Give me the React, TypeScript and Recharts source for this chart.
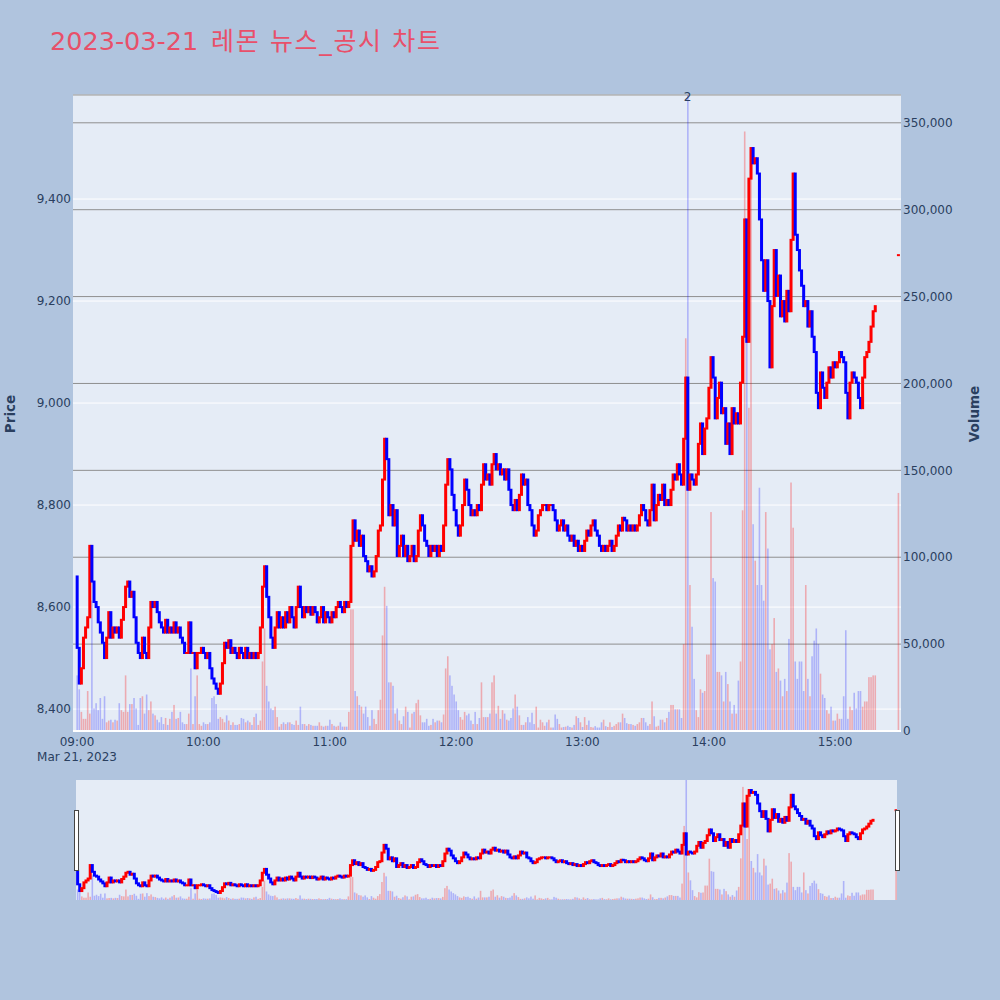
import { ComposedChart, Bar, XAxis, YAxis, CartesianGrid, ReferenceLine, ReferenceDot } from "recharts";

const FONT = '"DejaVu Sans", Verdana, "Noto Sans CJK KR", sans-serif';
const INK = "#2a3f5f";
const RED = "#ff0000";
const BLUE = "#0000ff";
const PLOT_BG = "#e5ecf6";

const chartTitle = "2023-03-21 레몬 뉴스_공시 차트";
const tradeDate = "Mar 21, 2023";
const timeTicks = ["09:00", "10:00", "11:00", "12:00", "13:00", "14:00", "15:00"];
const priceTicks = [8400, 8600, 8800, 9000, 9200, 9400];
const volumeTicks = [0, 50000, 100000, 150000, 200000, 250000, 300000, 350000];

// one candle per minute from 09:00, open = previous close
const firstOpen = 8660;
const closes = [
  8520, 8450, 8480, 8540, 8560, 8580, 8720, 8650, 8610, 8600,
  8570, 8550, 8530, 8500, 8540, 8590, 8540, 8560, 8550, 8560,
  8540, 8575, 8600, 8640, 8650, 8620, 8630, 8580, 8530, 8510,
  8500, 8540, 8510, 8500, 8560, 8610, 8600, 8610, 8590, 8570,
  8560, 8550, 8575, 8550, 8560, 8550, 8570, 8550, 8560, 8540,
  8530, 8510, 8510, 8570, 8510, 8510, 8480, 8510, 8510, 8520,
  8510, 8500, 8510, 8480, 8460, 8450, 8440, 8430, 8450, 8490,
  8530, 8520, 8535, 8510, 8520, 8510, 8500, 8520, 8510, 8500,
  8520, 8500, 8510, 8500, 8510, 8500, 8510, 8560, 8640, 8680,
  8620, 8580, 8540, 8520, 8560, 8590, 8560, 8580, 8560, 8590,
  8570, 8600, 8580, 8560, 8600, 8640, 8600, 8580, 8600, 8590,
  8600, 8585, 8600, 8590, 8570, 8580, 8600, 8570, 8590, 8580,
  8570, 8590, 8580, 8600, 8610, 8600, 8590, 8610, 8600, 8610,
  8720, 8770, 8730, 8750, 8720, 8740, 8700, 8690, 8670, 8680,
  8660, 8670, 8700, 8750, 8760, 8850, 8930, 8890, 8780, 8800,
  8760, 8790, 8700, 8720, 8740, 8700, 8720, 8690, 8700, 8720,
  8690, 8700, 8750, 8780, 8760, 8730, 8720, 8700, 8720, 8710,
  8720, 8700, 8720, 8710, 8760, 8840, 8890, 8870, 8820, 8790,
  8760, 8740, 8760, 8800, 8850, 8830, 8800, 8780, 8790, 8780,
  8800, 8790, 8840, 8880, 8850, 8860, 8840, 8880, 8900, 8870,
  8880, 8860, 8870, 8850, 8870, 8830, 8800, 8790, 8810, 8790,
  8820, 8860, 8840, 8850, 8800, 8790, 8760, 8740, 8750, 8780,
  8790, 8800, 8800, 8790, 8800, 8800, 8790, 8770, 8750, 8760,
  8770, 8750, 8760, 8740, 8730, 8740, 8720, 8730, 8710, 8720,
  8710, 8730, 8750, 8740, 8760, 8770, 8750, 8740, 8720, 8710,
  8720, 8710, 8720, 8730, 8710, 8720, 8740, 8760, 8750, 8775,
  8770, 8750, 8760, 8750, 8760, 8750, 8760, 8780, 8800, 8790,
  8770, 8760, 8790, 8840, 8770, 8800, 8820, 8810, 8840, 8800,
  8810, 8800, 8830, 8860, 8850, 8880, 8860, 8840, 8930, 9050,
  8830, 8860, 8850, 8840, 8860, 8920, 8960, 8900, 8950, 8970,
  9030, 9090, 9050, 8970, 9010, 9040, 8980, 8990, 8920, 8960,
  8900, 8990, 8960, 8980, 8960, 9040, 9130, 9360, 9120, 9440,
  9500, 9470, 9480, 9450, 9360, 9280, 9220, 9280, 9200, 9070,
  9190, 9300, 9210, 9250, 9170, 9200, 9160, 9220, 9180, 9320,
  9450, 9330, 9300, 9260, 9230, 9190, 9200, 9150, 9180, 9130,
  9100, 9020, 8990, 9060, 9030, 9010, 9040, 9070, 9050, 9080,
  9070, 9080, 9100, 9090, 9080, 9020, 8970, 9040, 9060, 9050,
  9040, 9010, 8990, 9050, 9090, 9100, 9120, 9150, 9180, 9190,
];
const volumes = [
  32000, 24000, 11000, 7000, 7000, 23000, 10000, 75000, 13000, 16000,
  12000, 19000, 7000, 20000, 5000, 6000, 6500, 5000, 6500, 6000,
  16000, 12000, 11000, 32000, 11000, 15500, 15500, 19000, 13000, 3500,
  19000, 20000, 10000, 21000, 12000, 17000, 10000, 9000, 6500, 5000,
  8000, 4000, 7500, 3500, 7000, 11000, 15000, 7000, 7500, 11000,
  5000, 4000, 4000, 10000, 36000, 4000, 20000, 32000, 4000, 3000,
  5000, 4000, 4000, 5000, 19000, 20000, 15500, 7000, 8000, 7000,
  5000, 9000, 6000, 3500, 5000, 3500, 3500, 4000, 7500, 7000,
  5000, 6000, 5000, 3500, 8000, 10000, 3500, 6000, 40000, 59000,
  26000, 17000, 13000, 12000, 14000, 8000, 2500, 4000, 5000, 4000,
  5000, 5000, 4000, 3500, 6000, 3500, 14000, 4000, 4000, 3000,
  4000, 3500, 3000, 3000, 3000, 5000, 3000, 2500, 3000, 3000,
  6500, 4000, 3000, 2500, 3000, 5000, 2500, 2500, 2500, 11000,
  70000, 70000, 23000, 20000, 15000, 14000, 10000, 14000, 8000, 3000,
  12000, 7000, 4000, 12000, 18000, 55000, 83000, 72000, 28000, 28000,
  26000, 10000, 13000, 6000, 4000, 8500, 14000, 11000, 2000, 10000,
  11000, 16000, 18000, 9000, 5000, 5000, 7000, 3000, 3500, 7000,
  5000, 6000, 6000, 5000, 9500, 36000, 43000, 32000, 26000, 21000,
  17000, 12000, 8000, 6500, 11000, 9000, 10000, 6000, 4000, 11000,
  4000, 7500, 28000, 8000, 8000, 8000, 10000, 28000, 32000, 10000,
  14500, 7000, 12000, 10000, 6500, 6000, 7500, 13000, 21000, 14000,
  9000, 3500, 3500, 5000, 8000, 5000, 10500, 4000, 14000, 2000,
  6500, 5000, 3000, 5000, 6500, 2000, 2000, 9500, 7000, 4000,
  2000, 2300, 2500, 3000, 2300, 2000, 3500, 8500, 7500, 5000,
  2300, 8000, 3500, 6000, 2300, 2000, 2800, 2000, 2000, 5000,
  6500, 2800, 2300, 5000, 2300, 3000, 4000, 5000, 5000, 10000,
  7500, 4500, 4000, 4000, 3500, 3000, 4000, 5000, 7500, 7500,
  5000, 3000, 4000, 17000, 8500, 2500, 3000, 6500, 6500, 5000,
  7500, 11000, 15000, 15000, 12500, 12500, 12500, 7500, 50000, 226000,
  366000, 84000, 60000, 30000, 12000, 8000, 24000, 22000, 23000, 44000,
  44000, 126000, 88000, 86000, 34000, 34000, 32000, 17000, 34000, 27000,
  17000, 10000, 15000, 10000, 29000, 40000, 127000, 345000, 238000, 186000,
  327000, 119000, 98000, 84000, 140000, 84000, 75000, 126000, 105000, 47000,
  50000, 65000, 34000, 36000, 29000, 20000, 30000, 23000, 53000, 143000,
  117000, 40000, 30000, 40000, 40000, 23000, 84000, 30000, 20000, 43000,
  52000, 59000, 50000, 33000, 21000, 19000, 12000, 10000, 14000, 6000,
  6000, 10000, 7000, 7000, 20000, 58000, 7000, 14000, 12000, 22000,
  13000, 23000, 23000, 14000, 17000, 17000, 31000, 31000, 32000, 32000,
];
const closingAuction = { time: "15:30", price: 9290, volume: 137000 };
const newsMarks = [{ time: "13:50", count: 2 }];

const toMinute = (hhmm: string) => {
  const [h, m] = hhmm.split(":").map(Number);
  return (h - 9) * 60 + m;
};
const fmtTime = (t: number) =>
  `${String(9 + Math.floor(t / 60)).padStart(2, "0")}:${String(t % 60).padStart(2, "0")}`;

const candles = closes.map((c, i) => {
  const o = i === 0 ? firstOpen : closes[i - 1];
  return { t: i, body: [Math.min(o, c), Math.max(o, c)], volume: volumes[i], up: c >= o };
});
candles.push({
  t: toMinute(closingAuction.time),
  body: [closingAuction.price, closingAuction.price],
  volume: closingAuction.volume,
  up: true,
});

const MAIN_X: [number, number] = [-1.9, 391.3];
const SLIDER_X: [number, number] = [-0.7, 390.5];
const PRICE_Y: [number, number] = [8357, 9604];
const VOL_Y: [number, number] = [0, 366000];

function CandleShape(props: any) {
  const { x, y, width, height, payload } = props;
  if (x == null || y == null) return <g />;
  const cx = x + width / 2;
  const top = Math.min(y, y + height);
  return <rect x={cx - 1.5} y={top - 1} width={3} height={Math.abs(height) + 2} fill={payload.up ? RED : BLUE} />;
}

function VolumeShape(props: any) {
  const { x, y, width, height, payload } = props;
  if (x == null || !height) return <g />;
  const cx = x + width / 2;
  const top = Math.min(y, y + height);
  return (
    <rect
      x={cx - 0.8}
      y={top}
      width={1.6}
      height={Math.abs(height)}
      fill={payload.up ? "rgba(255,0,0,0.28)" : "rgba(0,0,255,0.24)"}
    />
  );
}

function TimeTick(props: any) {
  const { x, y, payload, index } = props;
  return (
    <g>
      <text x={x} y={y + 15} textAnchor="middle" fontSize={12} fill={INK} fontFamily={FONT}>
        {fmtTime(payload.value)}
      </text>
      {index === 0 && (
        <text x={x} y={y + 30} textAnchor="middle" fontSize={12} fill={INK} fontFamily={FONT}>
          {tradeDate}
        </text>
      )}
    </g>
  );
}

const layer = (top: number): React.CSSProperties => ({ position: "absolute", left: 0, top });
const tickStyle = { fill: INK, fontSize: 12, fontFamily: FONT };

const titleDate = chartTitle.slice(0, chartTitle.indexOf(" "));
const titleRest = chartTitle.slice(chartTitle.indexOf(" ") + 1);

export default function App() {
  const mainMargin = { top: 95, right: 0, bottom: 9, left: 0 };
  return (
    <div style={{ position: "absolute", left: 0, top: 0, width: 1000, height: 1000, background: "#b0c4de", overflow: "hidden" }}>
      {/* volume layer + axes + grids */}
      <div style={layer(0)}>
        <ComposedChart width={1000} height={770} data={candles} margin={mainMargin}>
          <XAxis
            xAxisId="x"
            dataKey="t"
            type="number"
            domain={MAIN_X}
            allowDataOverflow
            ticks={timeTicks.map(toMinute)}
            interval={0}
            height={30}
            axisLine={false}
            tickLine={false}
            tickSize={0}
            tickMargin={0}
            tick={TimeTick}
          />
          <YAxis
            yAxisId="p"
            orientation="left"
            width={73}
            type="number"
            domain={PRICE_Y}
            allowDataOverflow
            ticks={priceTicks}
            interval={0}
            axisLine={false}
            tickLine={false}
            tickSize={0}
            tickMargin={2}
            tick={tickStyle}
            tickFormatter={(v) => v.toLocaleString("en-US")}
          />
          <YAxis
            yAxisId="v"
            orientation="right"
            width={99}
            type="number"
            domain={VOL_Y}
            allowDataOverflow
            ticks={volumeTicks}
            interval={0}
            axisLine={false}
            tickLine={false}
            tickSize={0}
            tickMargin={2}
            tick={tickStyle}
            tickFormatter={(v) => v.toLocaleString("en-US")}
          />
          <CartesianGrid xAxisId="x" yAxisId="p" vertical={false} stroke="#ffffff" fill={PLOT_BG} fillOpacity={1} />
          <CartesianGrid xAxisId="x" yAxisId="v" vertical={false} stroke="#8f8f8f" />
          <ReferenceLine xAxisId="x" yAxisId="v" y={0} stroke="#ffffff" strokeWidth={2} />
          <Bar xAxisId="x" yAxisId="v" dataKey="volume" shape={VolumeShape} isAnimationActive={false} />
          {newsMarks.map((n) => (
            <ReferenceDot
              key={n.time}
              xAxisId="x"
              yAxisId="v"
              x={toMinute(n.time)}
              y={VOL_Y[1]}
              r={0}
              fill="none"
              stroke="none"
              ifOverflow="visible"
              label={(p: any) => (
                <text x={p.viewBox.x} y={p.viewBox.y + 6} textAnchor="middle" fontSize={12} fill={INK} fontFamily={FONT}>
                  {n.count}
                </text>
              )}
            />
          ))}
        </ComposedChart>
      </div>

      {/* candle layer */}
      <div style={layer(0)}>
        <ComposedChart width={1000} height={770} data={candles} margin={{ top: 95, right: 99, bottom: 39, left: 73 }}>
          <XAxis dataKey="t" type="number" domain={MAIN_X} allowDataOverflow hide />
          <YAxis type="number" domain={PRICE_Y} allowDataOverflow hide />
          <Bar dataKey="body" shape={CandleShape} isAnimationActive={false} />
        </ComposedChart>
      </div>

      {/* range slider */}
      <div style={{ position: "absolute", left: 76, top: 780, width: 821, height: 120, background: PLOT_BG }} />
      <div style={layer(780)}>
        <ComposedChart width={1000} height={120} data={candles} margin={{ top: 0, right: 103, bottom: 0, left: 76 }}>
          <XAxis dataKey="t" type="number" domain={SLIDER_X} allowDataOverflow hide />
          <YAxis type="number" domain={VOL_Y} allowDataOverflow hide />
          <Bar dataKey="volume" shape={VolumeShape} isAnimationActive={false} />
        </ComposedChart>
      </div>
      <div style={layer(780)}>
        <ComposedChart width={1000} height={120} data={candles} margin={{ top: 0, right: 103, bottom: 0, left: 76 }}>
          <XAxis dataKey="t" type="number" domain={SLIDER_X} allowDataOverflow hide />
          <YAxis type="number" domain={PRICE_Y} allowDataOverflow hide />
          <Bar dataKey="body" shape={CandleShape} isAnimationActive={false} />
        </ComposedChart>
      </div>
      <div style={{ position: "absolute", left: 74, top: 810, width: 3, height: 59, background: "#fff", border: "1px solid #444" }} />
      <div style={{ position: "absolute", left: 895, top: 810, width: 3, height: 59, background: "#fff", border: "1px solid #444" }} />

      {/* titles */}
      <svg width={1000} height={1000} style={{ position: "absolute", left: 0, top: 0, pointerEvents: "none" }}>
        <text x={50} y={50} fontSize={25.5} fill="#e8506a" fontFamily={FONT}>
          {titleDate}
        </text>
        <text x={211} y={50} fontSize={25} fill="#e8506a" fontFamily={FONT} textLength={229} lengthAdjust="spacing">
          {titleRest}
        </text>
        <text x={15} y={414} transform="rotate(-90 15 414)" textAnchor="middle" fontSize={13.5} fontWeight="bold" fill={INK} fontFamily={FONT}>
          Price
        </text>
        <text x={979} y={414} transform="rotate(-90 979 414)" textAnchor="middle" fontSize={13.5} fontWeight="bold" fill={INK} fontFamily={FONT}>
          Volume
        </text>
      </svg>
    </div>
  );
}
